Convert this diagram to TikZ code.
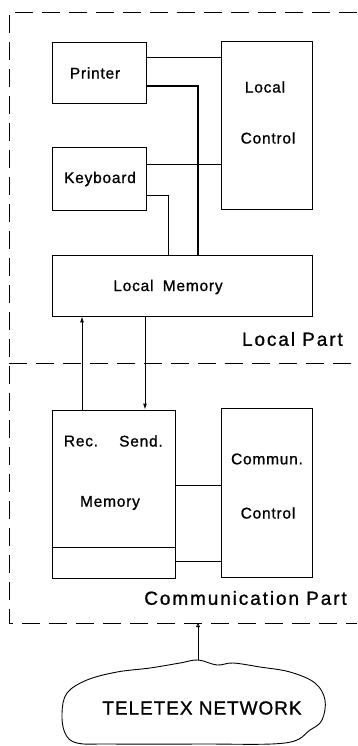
\documentclass[tikz,border=0pt]{standalone}
\usepackage{fontspec}
\setmainfont{Liberation Sans}
\usetikzlibrary{arrows.meta}
\newfontfamily\boxfont[LetterSpace=5,FakeBold=1]{Liberation Sans}
\newfontfamily\bigfont[LetterSpace=10,FakeBold=1]{Liberation Sans}
\newfontfamily\netfont[LetterSpace=5,FakeBold=1]{Liberation Sans}
\begin{document}
\begin{tikzpicture}[x=1pt,y=-1pt,
  blk/.style={draw,line width=0.9pt,rectangle,inner sep=0pt},
  txt/.style={inner sep=0pt,font=\boxfont\fontsize{15.5}{18}\selectfont},
  big/.style={inner sep=0pt,font=\bigfont\fontsize{19}{22}\selectfont},
  nettxt/.style={inner sep=0pt,font=\netfont\fontsize{19}{22}\selectfont},
  wire/.style={line width=0.9pt},
  fence/.style={line width=0.8pt,dash pattern=on 18pt off 9pt},
  tip/.style={-{Latex[length=6pt,width=4pt]}}]
\useasboundingbox (0,0) rectangle (357,746);
% outer dashed frame
\coordinate (tl) at (9,12);
\coordinate (tr) at (357,12);
\coordinate (bl) at (9,623);
\coordinate (br) at (357,623);
\coordinate (ml) at (9,363);
\coordinate (mr) at (357,363);
\draw[fence] (tr) -- (tl) -- (bl) -- (br);
\draw[fence] (ml) -- (mr);
% boxes
\node[blk,minimum width=94pt,minimum height=61pt] (printer) at (99,72.5) {};
\node[txt] (printerT) at (95,73) {Printer};
\node[blk,minimum width=91pt,minimum height=168pt] (lc) at (266.5,125) {};
\node[txt] (lcT1) at (265,87) {Local};
\node[txt] (lcT2) at (268,138) {Control};
\node[blk,minimum width=94pt,minimum height=63pt] (kb) at (99,178.5) {};
\node[txt] (kbT) at (100,179) {Keyboard};
\node[blk,minimum width=260pt,minimum height=61pt] (lm) at (182,285.5) {};
\node[txt] (lmT) at (168,287) {Local\hspace{0.6em}Memory};
\node[big,anchor=east] (lp) at (343,339) {Local Part};
\node[blk,minimum width=123pt,minimum height=168pt] (rs) at (113.5,494) {};
\node[txt] (rsT1) at (81,441) {Rec.};
\node[txt] (rsT2) at (141,441) {Send.};
\node[txt] (rsT3) at (110,503) {Memory};
\coordinate (rsL) at (52,547);
\coordinate (rsR) at (175,547);
\draw[wire] (rsL) -- (rsR);
\node[blk,minimum width=91pt,minimum height=169pt] (cc) at (266.5,492.5) {};
\node[txt] (ccT1) at (267,459) {Commun.};
\node[txt] (ccT2) at (268,513) {Control};
\node[big,anchor=east] (cp) at (347,598) {Communication Part};
% wires
\draw[wire] (printer.east |- 0,57) -- (lc.west |- 0,57);
\draw[line width=1.05pt] (printer.east |- 0,86) -| (lm.north -| 198,0);
\draw[wire] (kb.east |- 0,164) -- (lc.west |- 0,164);
\draw[wire] (kb.east |- 0,195) -| (lm.north -| 168,0);
\draw[wire,tip] (rs.north -| 82,0) -- (lm.south -| 82,0);
\draw[wire,tip] (lm.south -| 145,0) -- (rs.north -| 145,0);
\draw[wire] (rs.east |- 0,485) -- (cc.west |- 0,485);
\draw[wire] (rs.east |- 0,561) -- (cc.west |- 0,561);
% cloud
\coordinate (ctop) at (198,660);
\draw[line width=0.9pt] plot[smooth cycle,tension=0.6] coordinates {
 (198,660) (217,665) (233,663) (260,667) (290,672) (315,683) (325,700)
 (322,720) (310,730) (285,743) (200,744) (110,744) (77,743) (65,733) (62,713)
 (67,693) (87,680) (117,672) (150,668) (180,663)};
\node[nettxt] (net) at (202,708) {TELETEX NETWORK};
\draw[line width=0.8pt,-{Triangle[open,length=4pt,width=4pt]}] (ctop) -- (bl -| ctop);
\end{tikzpicture}
\end{document}
